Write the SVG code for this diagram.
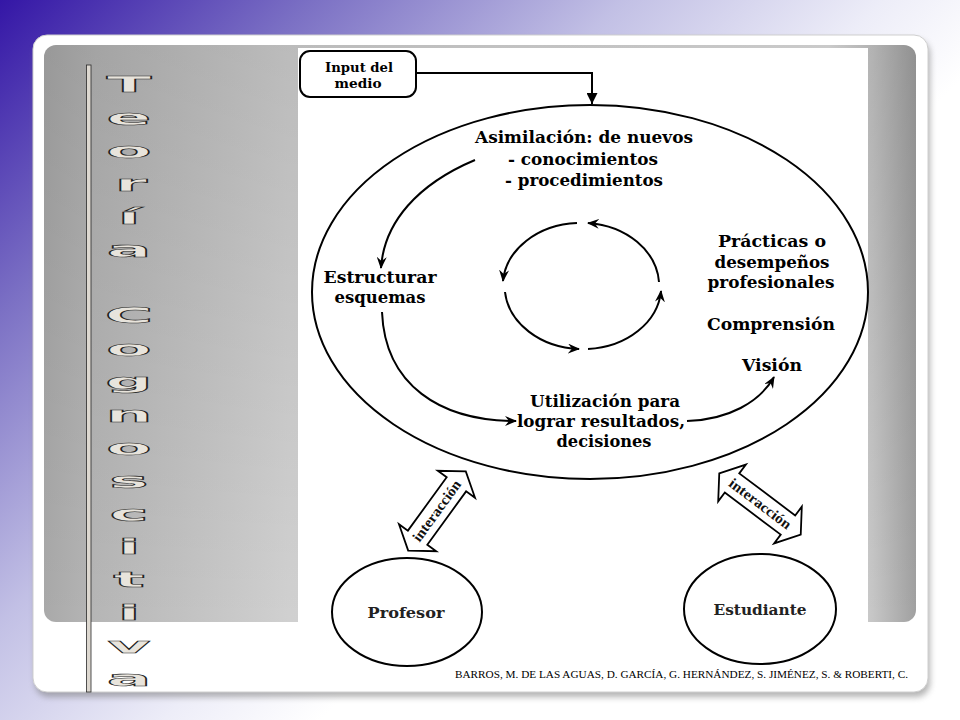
<svg xmlns="http://www.w3.org/2000/svg" width="960" height="720" viewBox="0 0 960 720">
<defs>
  <linearGradient id="bg" gradientUnits="userSpaceOnUse" x1="0" y1="0" x2="520" y2="520">
    <stop offset="0" stop-color="#3416a6"/>
    <stop offset="0.3" stop-color="#7b70c4"/>
    <stop offset="0.6" stop-color="#c2c0e5"/>
    <stop offset="0.85" stop-color="#ededf8"/>
    <stop offset="1" stop-color="#ffffff"/>
  </linearGradient>
  <linearGradient id="grayH" gradientUnits="userSpaceOnUse" x1="44" y1="0" x2="916" y2="0">
    <stop offset="0" stop-color="#a9a9a9"/>
    <stop offset="0.06" stop-color="#b6b6b6"/>
    <stop offset="0.28" stop-color="#d0d0d0"/>
    <stop offset="0.9" stop-color="#e0e0e0"/>
    <stop offset="0.95" stop-color="#c6c6c6"/>
    <stop offset="1" stop-color="#a0a0a0"/>
  </linearGradient>
  <linearGradient id="grayV" gradientUnits="userSpaceOnUse" x1="0" y1="45" x2="0" y2="622">
    <stop offset="0" stop-color="#000" stop-opacity="0.1"/>
    <stop offset="1" stop-color="#000" stop-opacity="0"/>
  </linearGradient>
  <filter id="shadow" x="-5%" y="-5%" width="110%" height="115%">
    <feGaussianBlur stdDeviation="3"/>
  </filter>
  <marker id="barb" viewBox="0 0 12 10" refX="11" refY="5" markerWidth="12" markerHeight="10" markerUnits="userSpaceOnUse" orient="auto">
    <path d="M0,0 L12,5 L0,10 L4,5 z" fill="#000"/>
  </marker>
  <marker id="tri" viewBox="0 0 10 10" refX="10" refY="5" markerWidth="11" markerHeight="11" markerUnits="userSpaceOnUse" orient="auto">
    <path d="M0,0 L10,5 L0,10 z" fill="#000"/>
  </marker>
  <style>
    .lbl { font-family: "DejaVu Serif", "Liberation Serif", serif; font-weight: bold; font-size: 16px; fill: #000; }
    .in { font-size: 13.5px; }
    .sm { font-size: 14px; fill: #222; }
    .line { fill: none; stroke: #000; stroke-width: 2; }
    .shape { fill: #fff; stroke: #000; stroke-width: 2; }
    .dbl { fill: #fff; stroke: #000; stroke-width: 1.8; stroke-linejoin: miter; }
    .inter { font-family: "Liberation Serif", "DejaVu Serif", serif; font-weight: bold; font-size: 14.5px; fill: #111; }
    .vt { font-family: "DejaVu Sans", sans-serif; font-weight: bold; font-size: 20px; fill: #e8e4dc; stroke: #222; stroke-width: 0.55; }
    .cite { font-family: "Liberation Serif", serif; font-size: 11px; fill: #000; }
  </style>
</defs>

<!-- background -->
<rect x="0" y="0" width="960" height="720" fill="url(#bg)"/>
<rect x="35" y="40" width="895" height="657" rx="14" fill="#777" opacity="0.55" filter="url(#shadow)"/>
<rect x="33" y="35" width="895" height="657" rx="14" fill="#fff" stroke="#cfcfcf" stroke-width="1"/>
<rect x="44" y="45" width="872" height="577" rx="12" fill="url(#grayH)"/>
<rect x="44" y="45" width="872" height="577" rx="12" fill="url(#grayV)"/>
<rect x="298" y="48" width="570" height="640" fill="#fff"/>

<!-- vertical title -->
<g id="title">
  <rect x="86.5" y="65" width="4.5" height="627" fill="#ddd8d0" stroke="#2a2a2a" stroke-width="0.8"/>
  <text class="vt" text-anchor="middle" transform="translate(129,92) scale(3.3,1.05)">T</text>
  <text class="vt" text-anchor="middle" transform="translate(129,125) scale(3.3,1.05)">e</text>
  <text class="vt" text-anchor="middle" transform="translate(129,158) scale(3.3,1.05)">o</text>
  <text class="vt" text-anchor="middle" transform="translate(131,191) scale(3.3,1.05)">r</text>
  <text class="vt" text-anchor="middle" transform="translate(129,224) scale(3.3,1.05)">í</text>
  <text class="vt" text-anchor="middle" transform="translate(129,257) scale(3.3,1.05)">a</text>
  <text class="vt" text-anchor="middle" transform="translate(129,323) scale(3.3,1.05)">C</text>
  <text class="vt" text-anchor="middle" transform="translate(129,356) scale(3.3,1.05)">o</text>
  <text class="vt" text-anchor="middle" transform="translate(129,389) scale(3.3,1.05)">g</text>
  <text class="vt" text-anchor="middle" transform="translate(129,422) scale(3.3,1.05)">n</text>
  <text class="vt" text-anchor="middle" transform="translate(129,455) scale(3.3,1.05)">o</text>
  <text class="vt" text-anchor="middle" transform="translate(129,488) scale(3.3,1.05)">s</text>
  <text class="vt" text-anchor="middle" transform="translate(129,521) scale(3.3,1.05)">c</text>
  <text class="vt" text-anchor="middle" transform="translate(129,554) scale(3.3,1.05)">i</text>
  <text class="vt" text-anchor="middle" transform="translate(129,587) scale(3.3,1.05)">t</text>
  <text class="vt" text-anchor="middle" transform="translate(129,620) scale(3.3,1.05)">i</text>
  <text class="vt" text-anchor="middle" transform="translate(129,653) scale(3.3,1.05)">v</text>
  <text class="vt" text-anchor="middle" transform="translate(129,686) scale(3.3,1.05)">a</text>
</g>

<!-- nodes -->
<g id="node-input">
  <rect x="300" y="51" width="116" height="46" rx="10" class="shape"/>
  <text class="lbl in" x="359" y="72" text-anchor="middle" textLength="68" lengthAdjust="spacingAndGlyphs">Input del</text>
  <text class="lbl in" x="358" y="88" text-anchor="middle" textLength="47" lengthAdjust="spacingAndGlyphs">medio</text>
</g>

<g id="node-ciclo">
  <ellipse cx="590" cy="292" rx="278" ry="187" class="shape" fill="none"/>
</g>

<g id="node-asimilacion">
  <text class="lbl" x="584" y="143" text-anchor="middle" textLength="218" lengthAdjust="spacingAndGlyphs">Asimilación: de nuevos</text>
  <text class="lbl" x="583" y="165" text-anchor="middle" textLength="150" lengthAdjust="spacingAndGlyphs">- conocimientos</text>
  <text class="lbl" x="584" y="186" text-anchor="middle" textLength="158" lengthAdjust="spacingAndGlyphs">- procedimientos</text>
</g>

<g id="node-estructurar">
  <text class="lbl" x="380" y="283" text-anchor="middle" textLength="113" lengthAdjust="spacingAndGlyphs">Estructurar</text>
  <text class="lbl" x="380" y="303" text-anchor="middle" textLength="91" lengthAdjust="spacingAndGlyphs">esquemas</text>
</g>

<g id="node-practicas">
  <text class="lbl" x="772" y="247" text-anchor="middle" textLength="108" lengthAdjust="spacingAndGlyphs">Prácticas o</text>
  <text class="lbl" x="772" y="268" text-anchor="middle" textLength="115" lengthAdjust="spacingAndGlyphs">desempeños</text>
  <text class="lbl" x="771" y="288" text-anchor="middle" textLength="127" lengthAdjust="spacingAndGlyphs">profesionales</text>
  <text class="lbl" x="771" y="330" text-anchor="middle" textLength="128" lengthAdjust="spacingAndGlyphs">Comprensión</text>
  <text class="lbl" x="772" y="371" text-anchor="middle" textLength="60" lengthAdjust="spacingAndGlyphs">Visión</text>
</g>

<g id="node-utilizacion">
  <text class="lbl" x="605" y="407" text-anchor="middle" textLength="150" lengthAdjust="spacingAndGlyphs">Utilización para</text>
  <text class="lbl" x="601" y="427" text-anchor="middle" textLength="168" lengthAdjust="spacingAndGlyphs">lograr resultados,</text>
  <text class="lbl" x="604" y="447" text-anchor="middle" textLength="95" lengthAdjust="spacingAndGlyphs">decisiones</text>
</g>

<g id="node-profesor">
  <ellipse cx="407" cy="612" rx="75" ry="54" class="shape"/>
  <text class="lbl sm" x="406" y="618" text-anchor="middle" textLength="77" lengthAdjust="spacingAndGlyphs">Profesor</text>
</g>

<g id="node-estudiante">
  <ellipse cx="760" cy="609" rx="76" ry="55" class="shape"/>
  <text class="lbl sm" x="760" y="615" text-anchor="middle" textLength="93" lengthAdjust="spacingAndGlyphs">Estudiante</text>
</g>

<!-- connectors -->
<g id="connectors">
  <path class="line" d="M416,73 H592 V104" marker-end="url(#tri)"/>
  <path class="line" d="M475,160 C418,184 384,222 381,268" marker-end="url(#barb)"/>
  <path class="line" d="M382,312 C385,385 440,421 516,421" marker-end="url(#barb)"/>
  <path class="line" d="M687,421 C728,420 760,402 774,377" marker-end="url(#barb)"/>
  <path class="line" d="M577,223 A78,63 0 0 0 503,281" marker-end="url(#barb)"/>
  <path class="line" d="M659,282 A78,63 0 0 0 588,223" marker-end="url(#barb)"/>
  <path class="line" d="M505,292 A78,63 0 0 0 579,349" marker-end="url(#barb)"/>
  <path class="line" d="M588,349 A78,63 0 0 0 661,291" marker-end="url(#barb)"/>

  <g id="interaccion-profesor" transform="translate(437,511) rotate(-54)">
    <polygon class="dbl" points="-49,0 -33,-23 -33,-12 33,-12 33,-23 49,0 33,23 33,12 -33,12 -33,23"/>
    <text class="inter" x="0" y="4.5" text-anchor="middle" textLength="72" lengthAdjust="spacingAndGlyphs">interacción</text>
  </g>
  <g id="interaccion-estudiante" transform="translate(760,504) rotate(37)">
    <polygon class="dbl" points="-51,0 -35,-23 -35,-12 35,-12 35,-23 51,0 35,23 35,12 -35,12 -35,23"/>
    <text class="inter" x="0" y="4.5" text-anchor="middle" textLength="74" lengthAdjust="spacingAndGlyphs">interacción</text>
  </g>
</g>

<text class="cite" x="455" y="678" textLength="453" lengthAdjust="spacingAndGlyphs">BARROS, M. DE LAS AGUAS, D. GARCÍA, G. HERNÁNDEZ, S. JIMÉNEZ, S. &amp; ROBERTI, C.</text>
</svg>
